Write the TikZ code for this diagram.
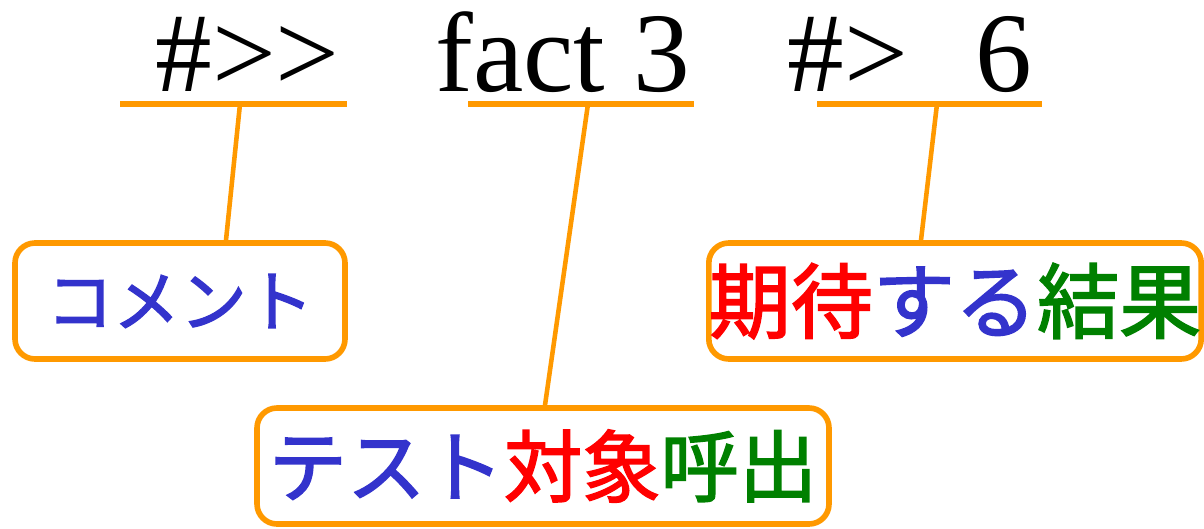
\documentclass[tikz,border=0pt]{standalone}
\usepackage{fontspec}
\setmainfont{Liberation Serif}
\newfontfamily\jpfont[FakeBold=2]{Noto Sans CJK JP}
\usetikzlibrary{positioning,calc}
\definecolor{markorange}{RGB}{255,153,0}
\definecolor{markblue}{RGB}{51,51,204}
\definecolor{markred}{RGB}{255,0,0}
\definecolor{markgreen}{RGB}{0,128,0}
\tikzset{
codetext/.style={anchor=base west, inner sep=0pt, font=\fontsize{64.5}{70}\selectfont},
labelbox/.style={rectangle, rounded corners=0.4cm, draw=markorange, line width=3.2pt,
                 inner sep=0pt, minimum height=2.32cm, text centered},
underline/.style={draw=markorange, line width=3.4pt},
link/.style={draw=markorange, line width=2.6pt}
}

\begin{document}
\begin{tikzpicture}
\useasboundingbox (0,0) rectangle (24.08,10.56);

%Code line
\node[codetext] (comment) at (3.1,8.72) {\#>{}>};
\node[codetext] (call) at (8.7,8.72) {fact 3};
\node[codetext] (resmark) at (15.74,8.72) {\#>};
\node[codetext] (resval) at (19.5,8.72) {6};

%Underlines
\coordinate (u1w) at (2.4,8.48);
\coordinate (u1e) at (6.94,8.48);
\coordinate (u2w) at (9.36,8.48);
\coordinate (u2e) at (13.88,8.48);
\coordinate (u3w) at (16.34,8.48);
\coordinate (u3e) at (20.84,8.48);
\draw[underline] (u1w) -- (u1e);
\draw[underline] (u2w) -- (u2e);
\draw[underline] (u3w) -- (u3e);

%Label boxes
\node[labelbox, minimum width=6.6cm, text=markblue,
      font=\jpfont\fontsize{38}{42}\selectfont] (commentbox) at (3.6,4.54) {コメント};
\node[labelbox, minimum width=11.44cm,
      font=\jpfont\fontsize{44.6}{48}\selectfont] (callbox) at (10.86,1.24)
      {\textcolor{markblue}{テスト}\textcolor{markred}{対象}\textcolor{markgreen}{呼出}};
\node[labelbox, minimum width=9.76cm,
      font=\jpfont\fontsize{46.7}{50}\selectfont] (resultbox) at (19.1,4.54)
      {\textcolor{markred}{期待}\textcolor{markblue}{する}\textcolor{markgreen}{結果}};

%Links
\coordinate (u1) at (4.8,8.48);
\coordinate (u2) at (11.76,8.48);
\coordinate (u3) at (18.74,8.48);
\draw[link] (u1) -- ($(commentbox.north)+(0.92,0)$);
\draw[link] (u2) -- ($(callbox.north)+(0.04,0)$);
\draw[link] (u3) -- ($(resultbox.north)+(-0.68,0)$);
\end{tikzpicture}
\end{document}
